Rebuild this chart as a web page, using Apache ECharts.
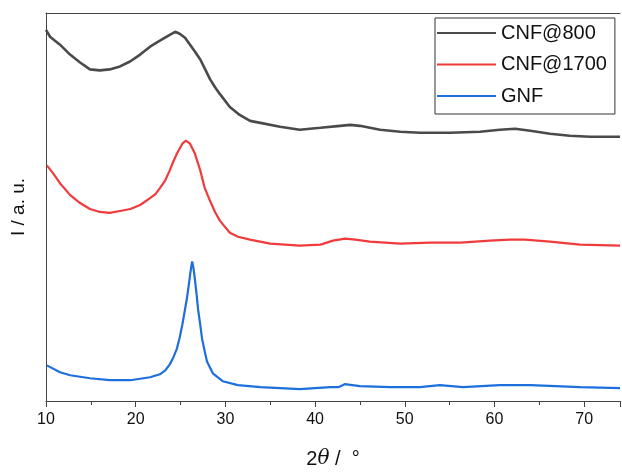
<!DOCTYPE html>
<html>
<head>
<meta charset="utf-8">
<script src="https://cdn.jsdelivr.net/npm/echarts@6/dist/echarts.min.js"></script>
<style>html,body{margin:0;padding:0;background:#fff}#c{width:622px;height:474px}</style>
</head>
<body>
<div id="c"></div>
<script>
// 2θ positions (degrees) and intensities (a.u.)
var tt800 = [10.0,10.45,11.0,11.56,12.68,13.8,14.9,16.0,17.1,18.25,19.37,20.5,21.6,22.7,23.8,24.4,24.9,25.5,26.06,26.6,27.2,27.75,28.3,28.85,29.4,30.5,31.6,32.75,33.9,36.1,38.3,40.6,42.8,43.9,45.0,47.25,49.5,51.7,55.05,58.4,60.6,62.3,64.0,66.2,68.4,70.7,74.0];
var i800  = [375,368,364,360,350,342,335,334,335,338,343,350,358,364,370,373,371,367,360,353,345,335,325,317,310,297,289,283,281,277,274,276,278,279,278,274,272,271,271,272,274,275,273,270,268,267,267];

var tt1700 = [10.1,10.8,11.56,12.7,13.8,14.9,16.0,17.1,18.25,19.4,20.5,21.6,22.2,22.7,23.3,23.8,24.2,24.6,25.2,25.6,26.06,26.6,27.2,27.7,28.3,28.85,29.4,30.5,31.4,32.75,35.0,38.3,40.6,42.0,43.35,44.5,46.1,49.5,52.8,56.2,59.5,61.7,63.4,66.2,69.55,74.0];
var i1700  = [238,230,220,208,200,194,191,190,192,194,198,205,209,215,223,233,242,250,260,263,260,250,233,215,202,191,182,170,166,163,159,157,158,162,164,163,161,159,160,160,162,163,163,161,158,157];

var ttGNF = [10.1,11.56,12.7,14.9,17.1,19.4,21.6,22.7,23.3,23.8,24.2,24.6,24.9,25.2,25.45,25.7,25.9,26.06,26.2,26.3,26.45,26.6,26.8,26.95,27.2,27.4,27.7,27.95,28.6,29.7,31.4,33.9,38.3,41.7,42.6,43.3,45.0,48.4,51.7,53.9,56.5,60.6,64.0,69.55,74.0];
var iGNF  = [36,29,26,23,21,21,24,27,31,37,44,53,64,77,90,103,116,127,136,141,134,123,107,93,77,63,50,40,28,20,16,14,12,14,14,17,15,14,14,16,14,16,16,14,13];

var names = ['CNF@800','CNF@1700','GNF'];
var colors = ['#4a4a4a','#f03b3d','#1c6fdc'];
var xTicks = {min:10, max:74, interval:10};

function pairs(xs, ys){ return xs.map(function(x,i){return [x, ys[i]];}); }

var chart = echarts.init(document.getElementById('c'), null, {renderer:'canvas'});
var FF = '"Liberation Sans", Arial, sans-serif';
var seriesData = [pairs(tt800,i800), pairs(tt1700,i1700), pairs(ttGNF,iGNF)];

chart.setOption({
  animation:false,
  textStyle:{fontFamily:FF},
  grid:{left:46, right:2, top:13, bottom:69, containLabel:false},
  legend:{
    data:names, icon:'rect',
    orient:'vertical', left:435, top:18,
    itemWidth:59, itemHeight:2, itemGap:11.5,
    padding:[5,8,8,2],
    borderColor:'#333', borderWidth:1,
    textStyle:{fontSize:20, lineHeight:20, color:'#111', fontFamily:FF}
  },
  xAxis:[{
    type:'value', min:xTicks.min, max:xTicks.max, interval:xTicks.interval,
    name:'2{i|θ} /  °', nameLocation:'middle', nameGap:48,
    nameTextStyle:{fontSize:20, color:'#111', fontFamily:FF, rich:{i:{fontStyle:'italic', fontSize:20, fontFamily:'"DejaVu Serif", serif', color:'#111'}}},
    axisLine:{show:true, onZero:false, lineStyle:{color:'#444', width:1}},
    axisTick:{show:true, inside:false, length:6, lineStyle:{color:'#444'}},
    minorTick:{show:true, splitNumber:2, length:4, lineStyle:{color:'#444'}},
    axisLabel:{fontSize:16, color:'#111', margin:11, showMaxLabel:false},
    splitLine:{show:false}
  },{
    type:'value', position:'top', min:xTicks.min, max:xTicks.max,
    axisLine:{show:true, onZero:false, lineStyle:{color:'#444', width:1}},
    axisTick:{show:false}, axisLabel:{show:false}, splitLine:{show:false}
  }],
  yAxis:{
    type:'value', min:0, max:392,
    name:'I / a. u.', nameLocation:'middle', nameGap:18, nameRotate:90,
    nameTextStyle:{fontSize:19, color:'#111', fontFamily:FF},
    axisLine:{show:true, onZero:false, lineStyle:{color:'#444', width:1}},
    axisTick:{show:false}, axisLabel:{show:false}, splitLine:{show:false}
  },
  series: names.map(function(n,k){
    return {
      name:n, type:'line', data:seriesData[k], symbol:'none',
      smooth:false,
      lineStyle:{color:colors[k], width:k===0?2.6:2.2},
      itemStyle:{color:colors[k]}
    };
  })
});
</script>
</body>
</html>
